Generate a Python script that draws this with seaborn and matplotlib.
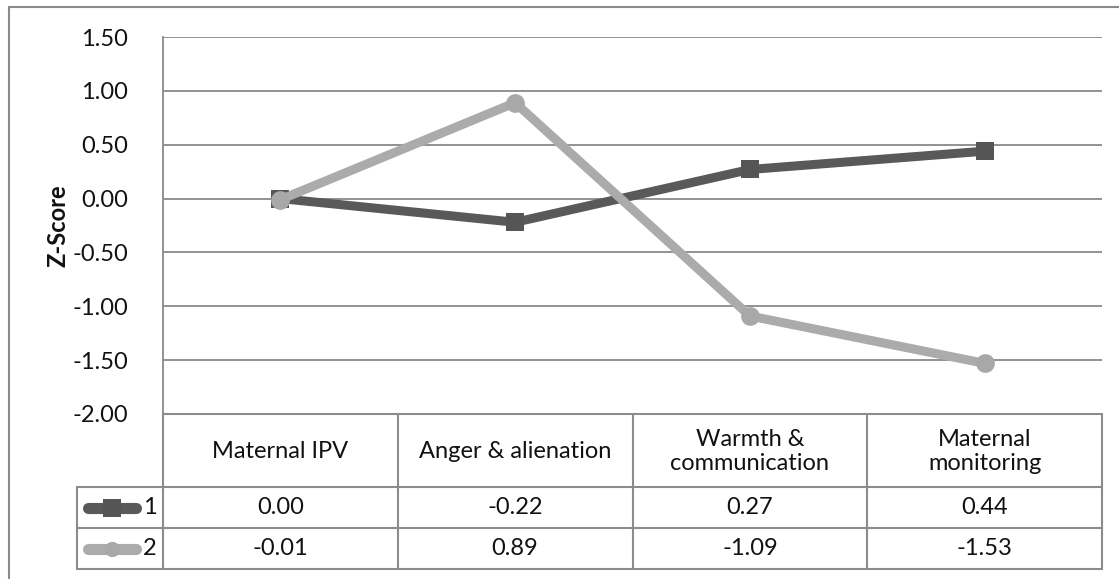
import matplotlib
matplotlib.use("Agg")
import matplotlib.pyplot as plt
import matplotlib.transforms as mtrans
from matplotlib.lines import Line2D
import seaborn as sns
import pandas as pd
import numpy as np

categories = ["Maternal IPV", "Anger & alienation", "Warmth &\ncommunication", "Maternal\nmonitoring"]
series_names = ["1", "2"]
series1 = [0.00, -0.22, 0.27, 0.44]
series2 = [-0.01, 0.89, -1.09, -1.53]
table1 = ["0.00", "-0.22", "0.27", "0.44"]
table2 = ["-0.01", "0.89", "-1.09", "-1.53"]
yticks = [1.5, 1.0, 0.5, 0.0, -0.5, -1.0, -1.5, -2.0]

sns.set_theme(style="white")
FONT = ["Lato", "DejaVu Sans"]
plt.rcParams["font.family"] = FONT

W, H = 1119, 579
fig = plt.figure(figsize=(W / 100, H / 100), dpi=100)

def fx(px):
    return px / W

def fy(py):
    return 1 - py / H

ax_l, ax_r, ax_t, ax_b = 163, 1102, 37, 414
ax = fig.add_axes([fx(ax_l), fy(ax_b), fx(ax_r - ax_l), (ax_b - ax_t) / H])

df = pd.DataFrame({
    "pos": list(range(len(categories))) * 2,
    "z": series1 + series2,
    "cluster": [series_names[0]] * 4 + [series_names[1]] * 4,
})

dark = "#595959"
light = "#ABABAB"
FS = 17

sns.lineplot(data=df[df.cluster == "1"], x="pos", y="z", color=dark, linewidth=6.5,
             marker="s", markersize=13.5, markeredgewidth=0, markerfacecolor="#555555",
             ax=ax, zorder=3, legend=False)
sns.lineplot(data=df[df.cluster == "2"], x="pos", y="z", color=light, linewidth=6.5,
             marker="o", markersize=13.5, markeredgewidth=0, markerfacecolor="#A8A8A8",
             ax=ax, zorder=4, legend=False)

ax.set_xlim(-0.5, len(categories) - 0.5)
ax.set_ylim(-2.0, 1.5)
ax.set_yticks(yticks)
ax.set_yticklabels([f"{v:.2f}" for v in yticks], fontsize=FS, color="#111111")
ax.set_xticks([])
ax.set_xlabel("")
ax.set_ylabel("Z-Score", fontsize=17, fontweight="bold", color="#111111")
ax.tick_params(axis="y", length=0, pad=25)
grid_c = "#898989"
for v in yticks:
    ax.axhline(v, color=grid_c, linewidth=1.3, zorder=1)
for s in ["top", "right", "bottom"]:
    ax.spines[s].set_visible(False)
ax.spines["left"].set_color(grid_c)
ax.spines["left"].set_linewidth(1.3)
ax.yaxis.set_label_coords((70 - ax_l) / (ax_r - ax_l), 0.5)

# data table below axes
tr = mtrans.blended_transform_factory(ax.transData, fig.transFigure)
tc = "#8C8C8C"
lw = 1.5
y_head_top, y_r1, y_r2, y_bot = 414, 487, 528, 569
x_left = -0.5
x_right = len(categories) - 0.5

def hline(x0, x1, py, transform=tr):
    fig.add_artist(Line2D([x0, x1], [fy(py), fy(py)], color=tc, lw=lw, transform=transform))

def vline(x, py0, py1, transform=tr):
    fig.add_artist(Line2D([x, x], [fy(py0), fy(py1)], color=tc, lw=lw, transform=transform))

hline(x_left, x_right, y_head_top)
hline(x_left, x_right, y_r1)
hline(x_left, x_right, y_r2)
hline(x_left, x_right, y_bot)
for i in range(len(categories) + 1):
    vline(i - 0.5, y_head_top, y_bot)

# legend column (figure pixel coords)
ft = fig.transFigure
leg_l = 77
fig.add_artist(Line2D([fx(leg_l), fx(ax_l)], [fy(y_r1), fy(y_r1)], color=tc, lw=lw, transform=ft))
fig.add_artist(Line2D([fx(leg_l), fx(ax_l)], [fy(y_r2), fy(y_r2)], color=tc, lw=lw, transform=ft))
fig.add_artist(Line2D([fx(leg_l), fx(ax_l)], [fy(y_bot), fy(y_bot)], color=tc, lw=lw, transform=ft))
fig.add_artist(Line2D([fx(leg_l), fx(leg_l)], [fy(y_r1), fy(y_bot)], color=tc, lw=lw, transform=ft))

txt_c = "#111111"
for i, cat in enumerate(categories):
    fig.text(i, fy((y_head_top + y_r1) / 2 + 1), cat, transform=tr, ha="center", va="center",
             fontsize=FS, color=txt_c, linespacing=1.2, family=FONT)
rows = [(table1, y_r1, y_r2), (table2, y_r2, y_bot)]
for vals, a, b in rows:
    for i, v in enumerate(vals):
        fig.text(i, fy((a + b) / 2), v, transform=tr, ha="center", va="center",
                 fontsize=FS, color=txt_c, family=FONT)

# legend keys
styles = [(dark, "s", "#555555"), (light, "o", "#A8A8A8")]
for (col, mk, mfc), name, (vals, a, b) in zip(styles, series_names, rows):
    yc = fy((a + b) / 2)
    fig.add_artist(Line2D([fx(88), fx(136)], [yc, yc], color=col, lw=8,
                          solid_capstyle="round", transform=ft))
    fig.add_artist(Line2D([fx(111.5)], [yc], color=col, marker=mk,
                          markersize=12.5 if mk == "s" else 11,
                          markerfacecolor=mfc, markeredgewidth=0, transform=ft))
    fig.text(fx(143), yc, name, ha="left", va="center", fontsize=FS, color=txt_c, family=FONT)

# outer chart border (left and top visible)
bc = "#8A8A8A"
fig.add_artist(Line2D([fx(9), fx(9)], [fy(7), 0], color=bc, lw=1.5, transform=ft))
fig.add_artist(Line2D([fx(9), 1], [fy(7), fy(7)], color=bc, lw=1.5, transform=ft))

fig.savefig("out.png", dpi=100)
